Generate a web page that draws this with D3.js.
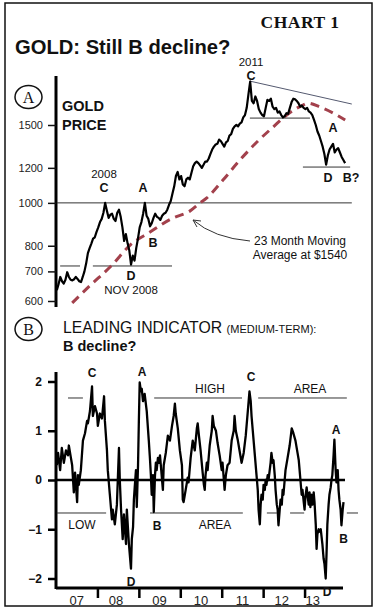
<!DOCTYPE html>
<html><head><meta charset="utf-8">
<script src="https://cdn.jsdelivr.net/npm/d3@7"></script>
<style>body{margin:0;background:#fff}svg{display:block}text{font-family:"Liberation Sans",Arial,sans-serif}</style>
</head><body><svg id="c" width="379" height="610"></svg>
<script>
// ---------- DATA ----------
// Gold price, semi-monthly, from Jan 2007
const goldStart = 2007.02;
const goldStep = 1 / 24;
const goldValues = [
  635,655,680,665,657,670,697,680,670,668,672,680,673,665,662,680,700,730,770,790,809,830,836,860,
  880,905,920,950,1000,960,925,940,945,920,910,950,965,930,880,820,850,810,780,725,760,740,790,830,
  880,905,945,1000,935,920,885,900,925,945,930,925,915,935,945,950,965,990,1010,1050,1090,1150,1175,1130,
  1150,1100,1090,1130,1140,1130,1170,1210,1230,1240,1230,1215,1200,1220,1240,1240,1260,1290,1320,1340,1355,1360,1390,1380,
  1360,1340,1370,1380,1420,1430,1470,1490,1500,1490,1510,1520,1560,1580,1640,1760,1880,1700,1680,1740,1700,1630,1600,1580,
  1570,1640,1710,1700,1720,1650,1630,1640,1600,1610,1580,1560,1570,1595,1590,1640,1690,1720,1715,1700,1680,1650,1660,1640,
  1630,1640,1610,1600,1580,1540,1500,1450,1420,1380,1340,1290,1220,1280,1320,1340,1360,1300,1320,1330,1300,1270,1250,1230
];
// 23-month moving average
const maDates  = [2007.39, 2007.82, 2008.35, 2008.79, 2009.27, 2009.82, 2010.23, 2010.48, 2010.64, 2011.03, 2011.44, 2011.85, 2012.24, 2012.57, 2012.96, 2013.08, 2013.37, 2013.69, 2013.98];
const maValues = [594, 650, 723, 803, 859, 924, 958, 1000, 1026, 1126, 1250, 1373, 1484, 1580, 1664, 1681, 1647, 1596, 1539];
const priceTicks = [600, 700, 800, 1000, 1200, 1500];

// Leading indicator (medium-term)
const indDates = [
 2007.02,2007.05,2007.10,2007.14,2007.19,2007.24,2007.29,2007.31,2007.36,2007.39,2007.43,2007.46,2007.51,2007.53,2007.55,2007.60,2007.65,2007.70,2007.75,2007.77,
 2007.82,2007.87,2007.89,2007.94,2007.99,2008.01,2008.06,2008.11,2008.16,2008.18,2008.23,2008.25,2008.30,2008.35,2008.37,2008.42,2008.47,2008.52,2008.54,2008.57,
 2008.61,2008.64,2008.69,2008.71,2008.76,2008.78,2008.81,2008.83,2008.86,2008.88,2008.90,2008.93,2008.95,2008.98,2009.00,2009.02,2009.05,2009.07,2009.10,2009.14,
 2009.19,2009.24,2009.27,2009.29,2009.31,2009.34,2009.36,2009.39,2009.41,2009.43,2009.46,2009.48,2009.51,2009.53,2009.58,2009.60,2009.65,2009.70,2009.75,2009.80,
 2009.84,2009.87,2009.89,2009.94,2009.99,2010.04,2010.06,2010.08,2010.13,2010.18,2010.20,2010.25,2010.30,2010.35,2010.40,2010.42,2010.45,2010.49,2010.54,2010.57,
 2010.59,2010.61,2010.64,2010.66,2010.71,2010.76,2010.78,2010.81,2010.86,2010.90,2010.95,2011.00,2011.02,2011.07,2011.10,2011.14,2011.19,2011.24,2011.29,2011.31,
 2011.34,2011.39,2011.43,2011.48,2011.53,2011.58,2011.63,2011.67,2011.70,2011.72,2011.75,2011.80,2011.84,2011.87,2011.89,2011.92,2011.94,2011.96,2011.99,2012.01,
 2012.04,2012.06,2012.08,2012.11,2012.13,2012.18,2012.20,2012.23,2012.25,2012.28,2012.30,2012.33,2012.35,2012.37,2012.40,2012.42,2012.45,2012.47,2012.49,2012.54,
 2012.59,2012.64,2012.69,2012.73,2012.78,2012.83,2012.86,2012.88,2012.90,2012.93,2012.95,2012.98,2013.00,2013.02,2013.05,2013.07,2013.10,2013.12,2013.14,2013.17,
 2013.19,2013.22,2013.24,2013.27,2013.29,2013.31,2013.34,2013.36,2013.39,2013.41,2013.43,2013.46,2013.48,2013.51,2013.53,2013.55,2013.58,2013.60,2013.63,2013.65,
 2013.67,2013.70,2013.72,2013.75,2013.77,2013.80,2013.82,2013.84,2013.87,2013.89,2013.92,2013.94
];
const indValues = [
 0.3,0.55,0.2,0.65,0.35,0.6,0.5,0.7,0.45,0.3,-0.25,0.15,-0.45,0.1,-0.1,0.2,0.8,0.95,1.2,1.15,
 1.4,1.9,1.3,1.5,1.35,1.1,1.35,1.25,1.7,1.2,0.6,0.2,-0.3,-0.8,-0.6,-0.9,-0.5,0.65,0.0,-0.6,
 -1.2,-0.7,-1.3,-0.6,-1.3,-1.5,-1.8,-1.2,-0.95,-0.4,-0.15,0.2,-0.55,0.3,1.2,1.98,1.8,1.85,1.6,1.75,
 1.4,0.8,0.4,0.1,-0.3,0.1,-0.65,0.1,0.35,0.2,0.45,0.35,0.5,0.3,-0.2,0.3,0.55,0.9,0.8,1.1,
 1.3,1.55,1.35,1.05,0.6,0.3,-0.4,-0.45,-0.2,0.05,-0.05,0.45,0.8,0.6,1.05,1.15,0.9,0.6,0.15,-0.1,
 -0.2,0.1,0.35,0.2,0.7,1.0,1.3,1.1,1.0,0.75,0.5,0.2,0.35,-0.2,0.1,0.3,0.35,0.8,1.0,1.3,
 1.0,0.8,0.6,0.35,0.55,0.9,1.4,1.8,1.6,1.3,1.0,0.5,0.1,-0.2,-0.6,-0.9,-0.5,-0.3,-0.4,-0.1,
 -0.2,0.0,-0.1,0.1,0.0,0.35,0.55,0.35,0.4,0.1,-0.2,-0.5,-0.6,-0.92,-0.6,-0.4,-0.5,-0.2,-0.3,0.2,
 0.45,0.7,1.05,0.95,0.8,0.55,0.4,0.2,0.0,-0.3,-0.2,-0.45,-0.6,-0.35,-0.15,-0.3,-0.5,-0.25,-0.55,-0.3,
 -0.5,-0.25,-0.45,-0.9,-1.4,-1.1,-1.0,-1.05,-1.0,-1.15,-1.3,-1.6,-1.7,-2.0,-1.5,-0.9,-0.5,-0.3,-0.15,0.0,
 0.1,0.5,0.82,0.2,-0.05,0.2,-0.2,-0.4,-0.6,-0.92,-0.6,-0.45
];
const indTicks = [2, 1, 0, -1, -2];
const yearTicks = [2008, 2009, 2010, 2011, 2012, 2013];
const yearLabels = ["07", "08", "09", "10", "11", "12", "13"];
const yearLabelDates = [2007.5, 2008.45, 2009.5, 2010.5, 2011.5, 2012.45, 2013.2];

// Reference lines (data units)
const priceRefLines = [
  {p1: 1000, p2: 1000, t1: 2007.02, t2: 2014.14},
  {p1: 720, p2: 720, t1: 2007.10, t2: 2007.58},
  {p1: 720, p2: 720, t1: 2007.89, t2: 2009.80},
  {p1: 1555, p2: 1555, t1: 2011.68, t2: 2013.13},
  {p1: 1205, p2: 1205, t1: 2012.96, t2: 2014.10}
];
const trendLine = {p1: 1885, p2: 1673, t1: 2011.68, t2: 2014.14};
const indRefLines = [
  {v: 1.665, t1: 2007.29, t2: 2007.65},
  {v: 1.665, t1: 2009.37, t2: 2011.49},
  {v: 1.665, t1: 2011.88, t2: 2014.02},
  {v: -0.67, t1: 2007.02, t2: 2008.21},
  {v: -0.67, t1: 2009.27, t2: 2011.51},
  {v: -0.67, t1: 2012.09, t2: 2012.33},
  {v: -0.67, t1: 2012.65, t2: 2012.99},
  {v: -0.67, t1: 2014.02, t2: 2014.29}
];

// ---------- DRAW ----------
const svg = d3.select("#c");
const x = d3.scaleLinear().domain([2007, 2014]).range([56, 346]);
const yA = d3.scaleLog().domain([600, 1500]).range([301, 125]);
const yB = d3.scaleLinear().domain([-2, 2]).range([578.5, 381.5]);

svg.append("rect").attr("x", 5).attr("y", 3).attr("width", 367).attr("height", 603)
  .attr("fill", "none").attr("stroke", "#111").attr("stroke-width", 1.5);

function txt(s, px, py, size, opts = {}) {
  return svg.append("text").attr("x", px).attr("y", py).attr("font-size", size)
    .attr("font-weight", opts.bold ? "bold" : "normal")
    .attr("text-anchor", opts.anchor || "start")
    .attr("fill", opts.fill || "#111")
    .style("font-family", opts.serif ? '"Liberation Serif","Times New Roman",serif' : null)
    .text(s);
}

txt("CHART 1", 300, 28, 17.5, {bold: true, anchor: "middle", serif: true}).attr("letter-spacing", 0.5);
txt("GOLD: Still B decline?", 15, 54, 20.2, {bold: true});

// circled letters
[[28.5, 97, "A"], [28.5, 329, "B"]].forEach(([cx, cy, l]) => {
  svg.append("ellipse").attr("cx", cx).attr("cy", cy).attr("rx", 13.5).attr("ry", 11.5)
    .attr("fill", "none").attr("stroke", "#111").attr("stroke-width", 1.5);
  txt(l, cx, cy + 5.5, 16, {anchor: "middle", serif: true});
});

// ----- Panel A -----
svg.append("line").attr("x1", 56).attr("x2", 56).attr("y1", 76).attr("y2", 307)
  .attr("stroke", "#000").attr("stroke-width", 3);
const axA = svg.append("g").attr("transform", "translate(56,0)")
  .call(d3.axisLeft(yA).tickValues(priceTicks).tickFormat(d3.format("d")).tickSize(8).tickPadding(5));
axA.select(".domain").remove();
axA.selectAll(".tick line").attr("stroke", "#111").attr("stroke-width", 1.5);
axA.selectAll(".tick text").attr("font-size", 11).attr("fill", "#222")
  .style("font-family", '"Liberation Sans",Arial,sans-serif');

txt("GOLD", 62, 111, 14.5, {bold: true});
txt("PRICE", 62, 130, 14.5, {bold: true});

priceRefLines.forEach(r => {
  svg.append("line").attr("x1", x(r.t1)).attr("x2", x(r.t2)).attr("y1", yA(r.p1)).attr("y2", yA(r.p2))
    .attr("stroke", "#333").attr("stroke-width", 1);
});
svg.append("line").attr("x1", x(trendLine.t1)).attr("x2", x(trendLine.t2))
  .attr("y1", yA(trendLine.p1)).attr("y2", yA(trendLine.p2))
  .attr("stroke", "#555a70").attr("stroke-width", 1);

svg.append("path").datum(maValues)
  .attr("d", d3.line().curve(d3.curveMonotoneX).x((d, i) => x(maDates[i])).y(d => yA(d)))
  .attr("fill", "none").attr("stroke", "#a3414c").attr("stroke-width", 3)
  .attr("stroke-dasharray", "9,6");

svg.append("path").datum(goldValues)
  .attr("d", d3.line().x((d, i) => x(goldStart + i * goldStep)).y(d => yA(d)))
  .attr("fill", "none").attr("stroke", "#000").attr("stroke-width", 2.2).attr("stroke-linejoin", "round");

// panel A annotations
txt("2011", 251, 66, 11.5, {anchor: "middle"});
txt("C", 251, 80, 12.5, {anchor: "middle", bold: true});
txt("2008", 104, 178, 11.5, {anchor: "middle"});
txt("C", 104, 192, 12.5, {anchor: "middle", bold: true});
txt("A", 143, 192, 12.5, {anchor: "middle", bold: true});
txt("B", 153, 247, 12.5, {anchor: "middle", bold: true});
txt("D", 131, 280, 12.5, {anchor: "middle", bold: true});
txt("NOV 2008", 131, 294, 11.5, {anchor: "middle"});
txt("A", 333, 132, 12.5, {anchor: "middle", bold: true});
txt("D", 328, 182, 12.5, {anchor: "middle", bold: true});
txt("B?", 351, 182, 12.5, {anchor: "middle", bold: true});
txt("23 Month Moving", 300, 245, 12, {anchor: "middle"});
txt("Average at $1540", 300, 259, 12, {anchor: "middle"});
svg.append("path").attr("d", "M250,241 Q214,238 193,220")
  .attr("fill", "none").attr("stroke", "#333").attr("stroke-width", 1);
svg.append("path").attr("d", "M201,221 L193,220 L197,227")
  .attr("fill", "none").attr("stroke", "#333").attr("stroke-width", 1);

// ----- Panel B -----
svg.append("text").attr("x", 63).attr("y", 333).attr("font-size", 15.8).attr("fill", "#111")
  .call(t => {
    t.append("tspan").text("LEADING INDICATOR ");
    t.append("tspan").attr("font-size", 11).text("(MEDIUM-TERM):");
  });
txt("B decline?", 63, 351, 14.5, {bold: true});

svg.append("line").attr("x1", 56).attr("x2", 56).attr("y1", 372).attr("y2", 589)
  .attr("stroke", "#000").attr("stroke-width", 3);
const axB = svg.append("g").attr("transform", "translate(56,0)")
  .call(d3.axisLeft(yB).tickValues(indTicks).tickFormat(d3.format("d")).tickSize(8).tickPadding(6));
axB.select(".domain").remove();
axB.selectAll(".tick line").attr("stroke", "#000").attr("stroke-width", 2.5);
axB.selectAll(".tick text").attr("font-size", 12).attr("font-weight", "bold").attr("fill", "#111")
  .style("font-family", '"Liberation Sans",Arial,sans-serif');

svg.append("line").attr("x1", 56).attr("x2", 343).attr("y1", 588).attr("y2", 588)
  .attr("stroke", "#000").attr("stroke-width", 3);
const axX = svg.append("g").attr("transform", "translate(0,588)")
  .call(d3.axisBottom(x).tickValues(yearTicks).tickFormat("").tickSize(10));
axX.select(".domain").remove();
axX.selectAll(".tick line").attr("stroke", "#000").attr("stroke-width", 2.5);
yearLabels.forEach((l, i) => txt(l, x(yearLabelDates[i]), 605, 13, {anchor: "middle", fill: "#222"}));

// zero line
svg.append("line").attr("x1", 56).attr("x2", 345).attr("y1", yB(0)).attr("y2", yB(0))
  .attr("stroke", "#000").attr("stroke-width", 2.5);

indRefLines.forEach(r => {
  svg.append("line").attr("x1", x(r.t1)).attr("x2", x(r.t2)).attr("y1", yB(r.v)).attr("y2", yB(r.v))
    .attr("stroke", "#333").attr("stroke-width", 1);
});

svg.append("path").datum(indValues)
  .attr("d", d3.line().x((d, i) => x(indDates[i])).y(d => yB(d)))
  .attr("fill", "none").attr("stroke", "#000").attr("stroke-width", 2.3).attr("stroke-linejoin", "round");

// panel B annotations
txt("C", 92, 377, 12, {anchor: "middle", bold: true});
txt("A", 142, 376, 12, {anchor: "middle", bold: true});
txt("HIGH", 210, 393, 12, {anchor: "middle"});
txt("C", 251, 381, 12, {anchor: "middle", bold: true});
txt("AREA", 310, 393, 12, {anchor: "middle"});
txt("LOW", 82, 529, 12, {anchor: "middle"});
txt("B", 157, 530, 12, {anchor: "middle", bold: true});
txt("AREA", 215, 529, 12, {anchor: "middle"});
txt("D", 131, 586, 12, {anchor: "middle", bold: true});
txt("A", 336, 434, 12, {anchor: "middle", bold: true});
txt("B", 343.5, 543, 12, {anchor: "middle", bold: true});
txt("D", 327, 596, 12, {anchor: "middle", bold: true});
</script></body></html>
